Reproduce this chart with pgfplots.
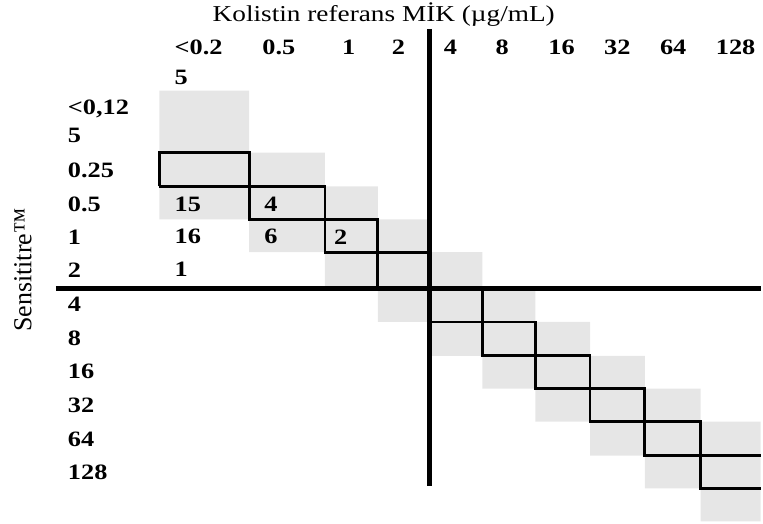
\documentclass[border=0pt]{standalone}
\usepackage{fontspec}
\setmainfont{Liberation Serif}
\usepackage{pgfplots}
\pgfplotsset{compat=1.18}
\usepackage{pgfplotstable}
\definecolor{cellgray}{HTML}{E6E6E6}
\newcommand{\hd}[1]{\scalebox{1.2}[1]{\fontsize{22}{26}\selectfont\bfseries #1}}

% counts in the agreement table (x = left of text, y = row centre, in px)
\pgfplotstableread{
x y label
175 204.6 15
265 204.6 4
175 237.6 16
265 237.6 6
335 237.6 2
175 270.6 1
}\counts

\begin{document}
\begin{tikzpicture}
\begin{axis}[
  scale only axis, width=763pt, height=525pt,
  xmin=0, xmax=763, ymin=0, ymax=525, y dir=reverse,
  hide axis, clip=false,
]
% frame (bounding box)
\addplot[draw=none, forget plot] coordinates {(0,0) (763,525)};
% shaded band of essential agreement (+/- 1 dilution)
\addplot[fill=cellgray, draw=none] coordinates {
 (160,91) (250,91) (250,153) (326,153) (326,187) (379,187) (379,220) (431,220)
 (431,253) (484,253) (484,289) (537,289) (537,323) (592,323) (592,357) (647,357)
 (647,390) (703,390) (703,423) (763,423)
 (763,523) (703,523) (703,490) (647,490) (647,457) (592,457) (592,423) (537,423)
 (537,390) (484,390) (484,357) (431,357) (431,323) (379,323) (379,289) (326,289)
 (326,253) (250,253) (250,220) (160,220)
} --cycle;
% exact agreement cells (staircase)
\addplot[black, line width=2.8pt, line join=miter] coordinates {
 (160,187) (160,153) (250,153) (250,187) (326,187) (326,220) (379,220) (379,253)
 (431,253) (431,289) (484,289) (484,323) (537,323) (537,357) (592,357) (592,390)
 (647,390) (647,423) (703,423) (703,457) (763,457)
};
\addplot[black, line width=2.8pt, line join=miter] coordinates {
 (160,187) (250,187) (250,220) (326,220) (326,253) (379,253) (379,289) (431,289)
 (431,323) (484,323) (484,357) (537,357) (537,390) (592,390) (592,423) (647,423)
 (647,457) (703,457) (703,490) (763,490)
};
% breakpoint lines
\addplot[black, line width=5pt] coordinates {(56,289) (763,289)};
\addplot[black, line width=5pt] coordinates {(431,29) (431,488)};
% counts
\addplot[only marks, mark=none, point meta=explicit symbolic,
  nodes near coords={\hd{\pgfplotspointmeta}},
  nodes near coords style={anchor=west, inner sep=0pt}]
  table[meta=label] {\counts};

% title
\node[anchor=base, inner sep=0pt] at (axis cs:385,22)
  {\scalebox{1.2}[1]{\fontsize{22.8}{26}\selectfont Kolistin referans MİK (µg/mL)}};
% column headers
\begin{scope}[every node/.style={anchor=base west, inner sep=0pt}]
\node at (axis cs:175,55) {\hd{<0.2}};
\node at (axis cs:175,85) {\hd{5}};
\node at (axis cs:263,55) {\hd{0.5}};
\node at (axis cs:343,55) {\hd{1}};
\node at (axis cs:393,55) {\hd{2}};
\node at (axis cs:445,55) {\hd{4}};
\node at (axis cs:497,55) {\hd{8}};
\node at (axis cs:550,55) {\hd{16}};
\node at (axis cs:606,55) {\hd{32}};
\node at (axis cs:662,55) {\hd{64}};
\node at (axis cs:718,55) {\hd{128}};
% row labels
\node at (axis cs:68,115) {\hd{<0,12}};
\node at (axis cs:68,143) {\hd{5}};
\node at (axis cs:68,178) {\hd{0.25}};
\node at (axis cs:68,212) {\hd{0.5}};
\node at (axis cs:68,245) {\hd{1}};
\node at (axis cs:68,278) {\hd{2}};
\node at (axis cs:68,313) {\hd{4}};
\node at (axis cs:68,347) {\hd{8}};
\node at (axis cs:68,380) {\hd{16}};
\node at (axis cs:68,413.5) {\hd{32}};
\node at (axis cs:68,447.5) {\hd{64}};
\node at (axis cs:68,481) {\hd{128}};
\end{scope}
% y label
\node[rotate=90, inner sep=0pt] at (axis cs:23,271)
  {\fontsize{26}{30}\selectfont Sensititre™};
\end{axis}
\end{tikzpicture}
\end{document}
